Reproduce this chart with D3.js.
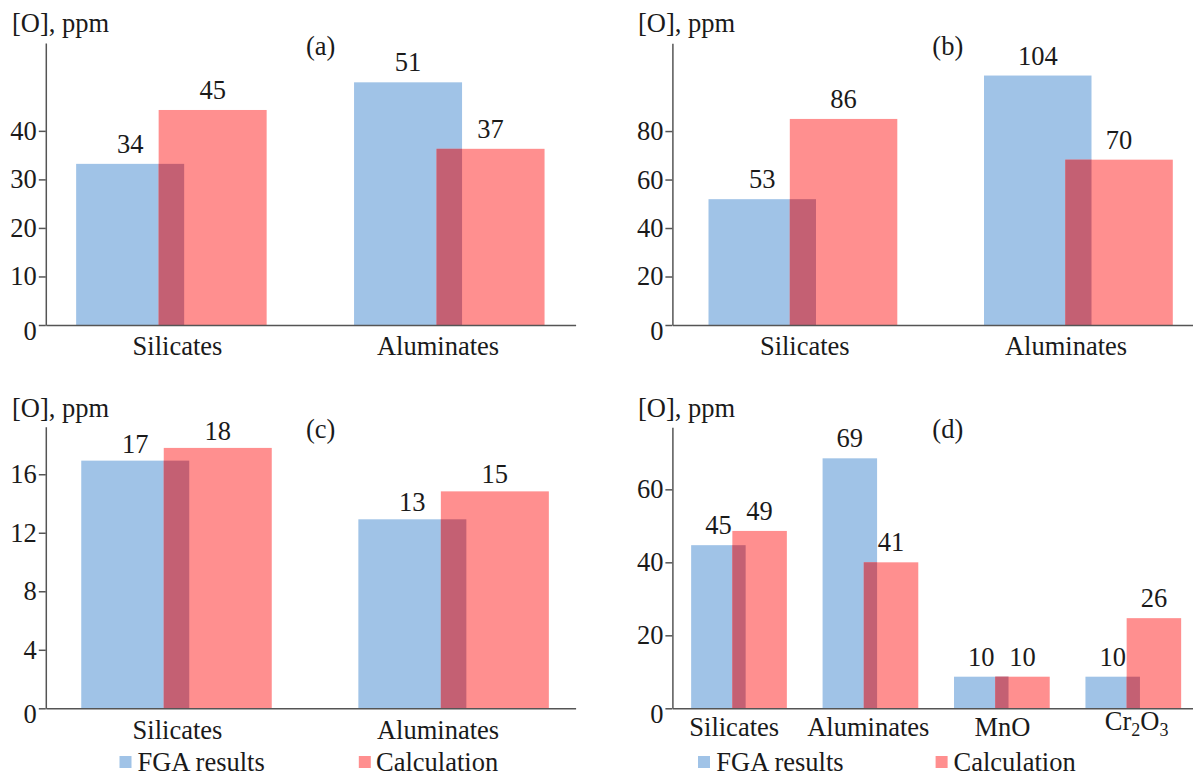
<!DOCTYPE html>
<html><head><meta charset="utf-8">
<script src="https://cdn.jsdelivr.net/npm/d3@7"></script>
<style>
body{margin:0;background:#fff}
svg text{font-family:"Liberation Serif","Times New Roman",serif !important;fill:#1a1a1a}
</style>
</head><body>
<svg id="chart" width="1193" height="775" font-family="Liberation Serif"></svg>
<script>
// ---------- data ----------
const categoriesAC = ["Silicates", "Aluminates"];
const categoriesD = ["Silicates", "Aluminates", "MnO", "Cr2O3"];

const fgaA = [33.2, 50.0];
const calcA = [44.3, 36.3];
const fgaLabelsA = ["34", "51"];
const calcLabelsA = ["45", "37"];

const fgaB = [51.9, 102.9];
const calcB = [85.0, 68.2];
const fgaLabelsB = ["53", "104"];
const calcLabelsB = ["86", "70"];

const fgaC = [16.93, 12.92];
const calcC = [17.8, 14.83];
const fgaLabelsC = ["17", "13"];
const calcLabelsC = ["18", "15"];

const fgaD = [44.7, 68.5, 8.66, 8.66];
const calcD = [48.6, 40.0, 8.66, 24.7];
const fgaLabelsD = ["45", "69", "10", "10"];
const calcLabelsD = ["49", "41", "10", "26"];

const ticksA = [0, 10, 20, 30, 40];
const ticksB = [0, 20, 40, 60, 80];
const ticksC = [0, 4, 8, 12, 16];
const ticksD = [0, 20, 40, 60];

const yMaxA = 58.1, yMaxB = 116.2, yMaxC = 19.25, yMaxD = 77.0;

const panelLetters = ["(a)", "(b)", "(c)", "(d)"];
const yTitle = "[O], ppm";
const legendLabels = ["FGA results", "Calculation"];

// ---------- style ----------
const BLUE = "#a0c3e7", RED = "#ff8f8f", OVER = "#c46073";
const AXIS = "#555", FS = 26.5, FONT = '"Liberation Serif", "Times New Roman", serif';

const panels = [
  {letter: panelLetters[0], cats: categoriesAC, fga: fgaA, calc: calcA, fgaL: fgaLabelsA, calcL: calcLabelsA,
   ticks: ticksA, yMax: yMaxA, axisX: 45.8, axisRight: 575.6, y0: 325, top: 43,
   centers: [171.4, 449.3], labelRange: [177.5, 438], barW: 108, offset: 82.5,
   catY: 355, letterX: 320.6, letterY: 54.5, titleX: 12, titleY: 32, gap: 11},
  {letter: panelLetters[1], cats: categoriesAC, fga: fgaB, calc: calcB, fgaL: fgaLabelsB, calcL: calcLabelsB,
   ticks: ticksB, yMax: yMaxB, axisX: 672.4, axisRight: 1193, y0: 325, top: 43.3,
   centers: [802.9, 1078.4], labelRange: [804.8, 1066], barW: 107.5, offset: 81.3,
   catY: 355, letterX: 947.8, letterY: 54.5, titleX: 638, titleY: 32, gap: 11},
  {letter: panelLetters[2], cats: categoriesAC, fga: fgaC, calc: calcC, fgaL: fgaLabelsC, calcL: calcLabelsC,
   ticks: ticksC, yMax: yMaxC, axisX: 45.8, axisRight: 575.6, y0: 708.3, top: 426.7,
   centers: [176.5, 453.6], labelRange: [177.5, 438], barW: 108, offset: 82.5,
   catY: 739, letterX: 320.6, letterY: 438, titleX: 12, titleY: 417, gap: 8,
   legend: {sq: [119.5, 358.8], tx: [137.4, 376]}},
  {letter: panelLetters[3], cats: categoriesD, fga: fgaD, calc: calcD, fgaL: fgaLabelsD, calcL: calcLabelsD,
   ticks: ticksD, yMax: yMaxD, axisX: 672.4, axisRight: 1193, y0: 708.3, top: 427.3,
   centers: [739, 1133.3], labelRange: [734.2, 1136.6], barW: 54.5, offset: 41.2,
   catY: 736, letterX: 947.8, letterY: 438, titleX: 638, titleY: 417, gap: 11,
   legend: {sq: [698, 935.6], tx: [716.3, 953.5]}}
];

const svg = d3.select("#chart");

function subText(sel, s) {
  // render digits as subscripts (e.g. Cr2O3)
  const parts = s.match(/[A-Za-z]+|\d+/g);
  if (!parts || !/\d/.test(s) || /^\d+$/.test(s)) { sel.text(s); return; }
  parts.forEach(p => {
    if (/^\d+$/.test(p)) sel.append("tspan").attr("font-size", FS * 0.68).attr("dy", 6).text(p);
    else sel.append("tspan").attr("dy", sel.selectAll("tspan").size() ? -6 : 0).text(p);
  });
}

panels.forEach(p => {
  const g = svg.append("g");
  const y = d3.scaleLinear().domain([0, p.yMax]).range([p.y0, p.top]);
  const x = d3.scalePoint().domain(p.cats).range(p.centers);
  const xl = d3.scalePoint().domain(p.cats).range(p.labelRange);
  const gw = p.offset + p.barW;

  const rows = p.cats.map((c, i) => ({c, f: p.fga[i], k: p.calc[i], fl: p.fgaL[i], kl: p.calcL[i]}));

  // FGA bars
  g.selectAll(".fga").data(rows).join("rect")
    .attr("x", d => x(d.c) - gw / 2).attr("width", p.barW)
    .attr("y", d => y(d.f)).attr("height", d => p.y0 - y(d.f))
    .attr("fill", BLUE);
  // Calculation bars
  g.selectAll(".calc").data(rows).join("rect")
    .attr("x", d => x(d.c) - gw / 2 + p.offset).attr("width", p.barW)
    .attr("y", d => y(d.k)).attr("height", d => p.y0 - y(d.k))
    .attr("fill", RED);
  // overlap region
  g.selectAll(".over").data(rows).join("rect")
    .attr("x", d => x(d.c) - gw / 2 + p.offset).attr("width", p.barW - p.offset)
    .attr("y", d => y(Math.min(d.f, d.k))).attr("height", d => p.y0 - y(Math.min(d.f, d.k)))
    .attr("fill", OVER);

  // value labels
  g.selectAll(".fl").data(rows).join("text")
    .attr("x", d => x(d.c) - gw / 2 + p.barW / 2)
    .attr("y", d => y(d.f) - p.gap)
    .attr("text-anchor", "middle").attr("font-size", FS).text(d => d.fl);
  g.selectAll(".kl").data(rows).join("text")
    .attr("x", d => x(d.c) - gw / 2 + p.offset + p.barW / 2)
    .attr("y", d => y(d.k) - p.gap)
    .attr("text-anchor", "middle").attr("font-size", FS).text(d => d.kl);

  // y axis
  const ya = g.append("g").attr("transform", `translate(${p.axisX},0)`)
    .call(d3.axisLeft(y).tickValues(p.ticks).tickSize(7).tickPadding(2).tickSizeOuter(0));
  ya.attr("font-family", FONT).attr("font-size", FS);
  ya.select(".domain").attr("stroke", AXIS).attr("stroke-width", 1.5);
  ya.selectAll(".tick line").attr("stroke", AXIS).attr("stroke-width", 1.5);
  ya.selectAll(".tick text").attr("font-size", FS).style("font-family", FONT)
    .attr("fill", "#1a1a1a").attr("dy", d => d === 0 ? "0.55em" : "0.32em");

  // x axis line
  const xs = d3.scaleLinear().range([p.axisX, p.axisRight]);
  const xa = g.append("g").attr("transform", `translate(0,${p.y0})`)
    .call(d3.axisBottom(xs).tickValues([]).tickSizeOuter(0));
  xa.select(".domain").attr("stroke", AXIS).attr("stroke-width", 1.5);

  // category labels
  g.selectAll(".cat").data(p.cats).join("text")
    .attr("x", d => xl(d)).attr("y", p.catY)
    .attr("text-anchor", "middle").attr("font-size", FS)
    .each(function (d) { subText(d3.select(this), d); });

  // panel letter & y title
  g.append("text").attr("x", p.letterX).attr("y", p.letterY).attr("text-anchor", "middle")
    .attr("font-size", FS).text(p.letter);
  g.append("text").attr("x", p.titleX).attr("y", p.titleY).attr("font-size", FS).text(yTitle);

  // legend
  if (p.legend) {
    [BLUE, RED].forEach((col, i) => {
      g.append("rect").attr("x", p.legend.sq[i]).attr("y", 756).attr("width", 12).attr("height", 12).attr("fill", col);
      g.append("text").attr("x", p.legend.tx[i]).attr("y", 771).attr("font-size", FS).text(legendLabels[i]);
    });
  }
});
svg.selectAll("text").style("font-family", FONT);
</script>
</body></html>
